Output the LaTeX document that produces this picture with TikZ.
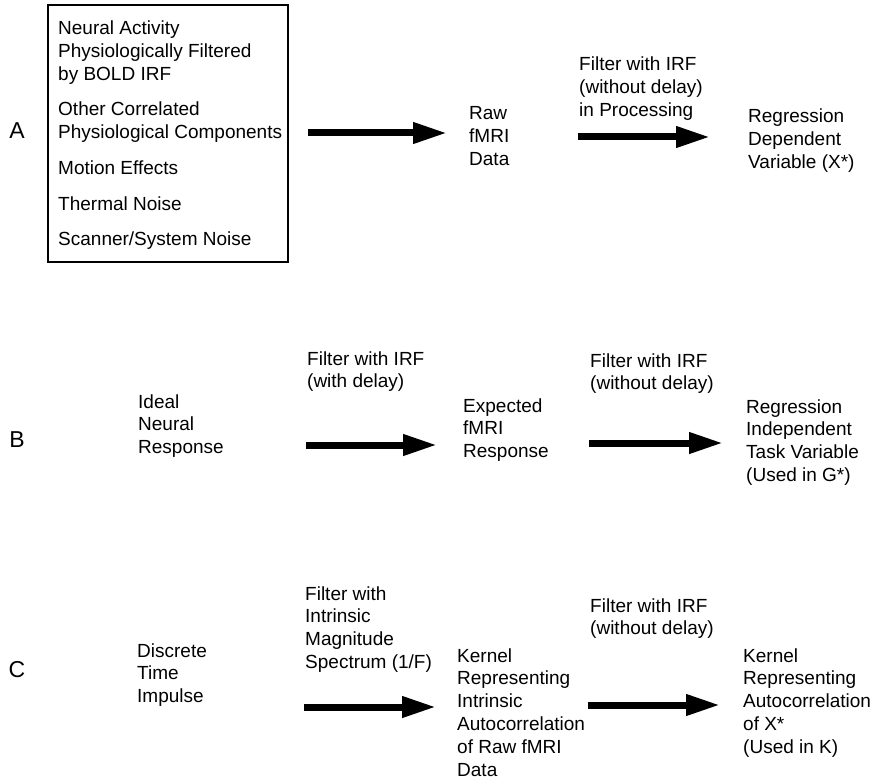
\documentclass[tikz,border=0pt]{standalone}
\usepackage{fontspec}
\setmainfont{Liberation Sans}
\usetikzlibrary{arrows.meta}
\newcommand\stk[1]{\vtop{\baselineskip=22.8pt\lineskiplimit=-10pt\lineskip=0pt #1}}
\tikzset{
  txt/.style={inner sep=0pt, anchor=base west, font=\fontsize{19}{22.8}\selectfont, align=left},
  letter/.style={inner sep=0pt, anchor=base, font=\fontsize{23}{26}\selectfont},
  bigarrow/.style={line width=7pt, -{Triangle[length=34pt,width=20pt]}},
  srcbox/.style={draw, line width=1.4pt}
}
\begin{document}
\begin{tikzpicture}[x=1pt,y=-1pt]
\useasboundingbox (0,0) rectangle (875,781);
% source box
\draw[srcbox] (48,5) rectangle (288,262);
\node[txt] (n1) at (58,35) {\stk{\hbox{Neural Activity}\hbox{Physiologically Filtered}\hbox{by BOLD IRF}}};
\node[txt] (n2) at (58,116) {\stk{\hbox{Other Correlated}\hbox{Physiological Components}}};
\node[txt] (n3) at (58,174) {Motion Effects};
\node[txt] (n4) at (58,210) {Thermal Noise};
\node[txt] (n5) at (58,245) {Scanner/System Noise};
% row letters
\node[letter] (LA) at (17,139) {A};
\node[letter] (LB) at (17,447) {B};
\node[letter] (LC) at (17,677) {C};
% row A
\node[txt] (raw) at (469,120) {\stk{\hbox{Raw}\hbox{fMRI}\hbox{Data}}};
\node[txt] (fa) at (579,71) {\stk{\hbox{Filter with IRF}\hbox{(without delay)}\hbox{in Processing}}};
\node[txt] (rega) at (748,123) {\stk{\hbox{Regression}\hbox{Dependent}\hbox{Variable (X*)}}};
% row B
\node[txt] (ideal) at (138,408) {\stk{\hbox{Ideal}\hbox{Neural}\hbox{Response}}};
\node[txt] (fb1) at (307,365) {\stk{\hbox{Filter with IRF}\hbox{(with delay)}}};
\node[txt] (exp) at (463,412) {\stk{\hbox{Expected}\hbox{fMRI}\hbox{Response}}};
\node[txt] (fb2) at (590,367) {\stk{\hbox{Filter with IRF}\hbox{(without delay)}}};
\node[txt] (regb) at (746,413) {\stk{\hbox{Regression}\hbox{Independent}\hbox{Task Variable}\hbox{(Used in G*)}}};
% row C
\node[txt] (disc) at (137,657) {\stk{\hbox{Discrete}\hbox{Time}\hbox{Impulse}}};
\node[txt] (fc1) at (305,600) {\stk{\hbox{Filter with}\hbox{Intrinsic}\hbox{Magnitude}\hbox{Spectrum (1/F)}}};
\node[txt] (kc1) at (457,662) {\stk{\hbox{Kernel}\hbox{Representing}\hbox{Intrinsic}\hbox{Autocorrelation}\hbox{of Raw fMRI}\hbox{Data}}};
\node[txt] (fc2) at (590,612) {\stk{\hbox{Filter with IRF}\hbox{(without delay)}}};
\node[txt] (kc2) at (743,662) {\stk{\hbox{Kernel}\hbox{Representing}\hbox{Autocorrelation}\hbox{of X*}\hbox{(Used in K)}}};
% arrow end points
\coordinate (a1s) at (308,133); \coordinate (a1e) at (447,133);
\coordinate (a2s) at (578,137); \coordinate (a2e) at (710,137);
\coordinate (b1s) at (306,445); \coordinate (b1e) at (437,445);
\coordinate (b2s) at (589,443); \coordinate (b2e) at (723,443);
\coordinate (c1s) at (304,707); \coordinate (c1e) at (436,707);
\coordinate (c2s) at (588,705); \coordinate (c2e) at (720,705);
\draw[bigarrow] (a1s) -- (a1e);
\draw[bigarrow] (a2s) -- (a2e);
\draw[bigarrow] (b1s) -- (b1e);
\draw[bigarrow] (b2s) -- (b2e);
\draw[bigarrow] (c1s) -- (c1e);
\draw[bigarrow] (c2s) -- (c2e);
\end{tikzpicture}
\end{document}
